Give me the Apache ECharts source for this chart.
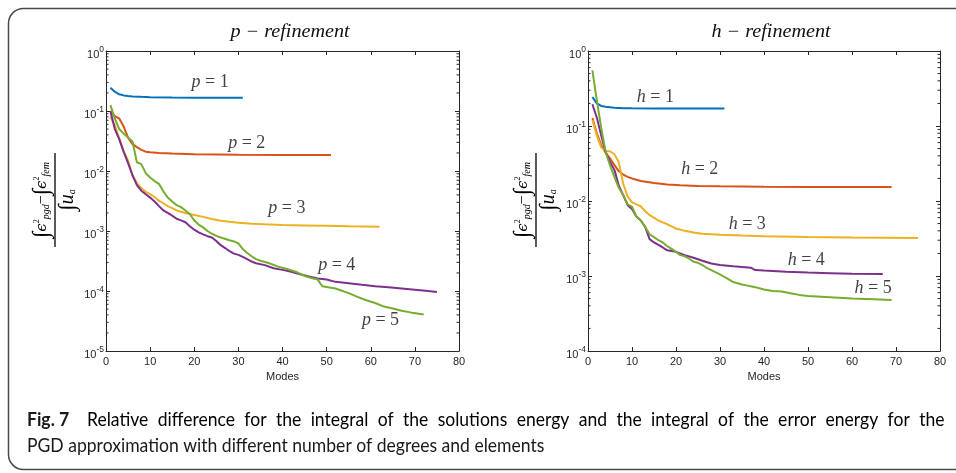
<!DOCTYPE html>
<html><head><meta charset="utf-8">
<script src="https://cdn.jsdelivr.net/npm/echarts@6/dist/echarts.min.js"></script>
<style>html,body{margin:0;padding:0;background:#fff}#c{width:956px;height:473px}</style>
</head><body><div id="c"></div>
<script>
// ---------- data ----------
const colors = ['#0072BD', '#D95319', '#EDB120', '#7E2F8E', '#77AC30'];
const labelNums = ['1', '2', '3', '4', '5'];

// p-refinement (left)
const p1 = [[1,0.245],[2,0.21],[3,0.19],[4,0.182],[5,0.178],[6,0.175],[8,0.172],[10,0.170],[15,0.168],[20,0.167],[25,0.167],[31,0.167]];
const p2 = [[1,0.1],[2,0.082],[3,0.075],[4,0.055],[5,0.036],[6,0.028],[7,0.025],[8,0.0225],[9,0.021],[10,0.0205],[12,0.020],[15,0.0195],[20,0.019],[25,0.0188],[30,0.0186],[40,0.0185],[51,0.0185]];
const p3 = [[1,0.08],[2,0.058],[3,0.035],[4,0.021],[5,0.015],[6,0.0085],[7,0.0063],[8,0.0052],[9,0.0045],[10,0.0041],[11,0.0037],[12,0.0032],[13,0.0029],[14,0.0026],[15,0.0024],[16,0.0022],[17,0.0021],[18,0.0020],[20,0.00185],[22,0.00172],[24,0.00158],[26,0.00148],[28,0.00142],[30,0.00137],[33,0.00132],[36,0.00129],[40,0.00126],[45,0.00124],[50,0.00122],[55,0.0012],[62,0.00118]];
const p4 = [[1,0.1],[2,0.05],[3,0.034],[4,0.021],[5,0.0135],[6,0.0085],[7,0.0058],[8,0.0047],[9,0.0041],[10,0.0036],[11,0.0031],[12,0.0026],[13,0.0022],[14,0.0020],[15,0.0018],[16,0.0016],[17,0.0015],[18,0.0014],[19,0.0012],[20,0.00105],[21,0.00095],[22,0.00088],[23,0.00082],[24,0.00078],[25,0.00068],[26,0.00058],[27,0.00052],[28,0.00046],[29,0.00042],[30,0.0004],[31,0.00037],[32,0.00034],[33,0.00031],[34,0.00029],[36,0.00027],[38,0.00024],[40,0.000225],[42,0.00021],[44,0.00019],[46,0.000175],[48,0.000162],[50,0.000155],[52,0.000142],[55,0.000135],[58,0.000127],[61,0.00012],[64,0.000115],[67,0.00011],[70,0.000105],[73,0.0001],[75,0.0000962]];
const p5 = [[1,0.125],[2,0.075],[3,0.05],[4,0.042],[5,0.036],[6,0.031],[7,0.014],[8,0.013],[9,0.0092],[10,0.0078],[11,0.0068],[12,0.0061],[13,0.0046],[14,0.0036],[15,0.0031],[16,0.0027],[17,0.0025],[18,0.0022],[19,0.0019],[20,0.0015],[21,0.00128],[22,0.00115],[23,0.001],[24,0.0009],[25,0.00083],[26,0.00078],[28,0.0007],[29,0.00067],[30,0.00062],[31,0.0005],[32,0.00043],[33,0.00038],[34,0.00034],[35,0.00032],[37,0.00029],[39,0.000255],[41,0.000232],[43,0.00021],[45,0.000178],[47,0.000162],[48,0.000155],[49,0.00012],[52,0.00011],[55,0.000092],[57,0.00008],[59,0.00007],[61,0.000063],[63,0.000055],[65,0.000051],[67,0.000047],[69,0.000044],[72,0.0000407]];

// h-refinement (right)
const h1 = [[1,0.244],[2,0.2],[3,0.185],[4,0.18],[6,0.175],[8,0.173],[10,0.172],[15,0.171],[20,0.171],[31,0.171]];
const h2 = [[1,0.128],[2,0.08],[3,0.056],[4,0.044],[5,0.037],[6,0.03],[7,0.025],[8,0.0225],[9,0.021],[10,0.02],[12,0.0185],[15,0.0174],[18,0.0166],[21,0.0162],[25,0.0159],[30,0.0157],[40,0.0155],[50,0.0154],[69,0.0154]];
const h3 = [[1,0.12],[2,0.075],[3,0.052],[4,0.046],[5,0.046],[6,0.042],[7,0.033],[8,0.017],[9,0.0115],[10,0.0096],[11,0.009],[12,0.0085],[13,0.0073],[14,0.0065],[15,0.006],[16,0.0055],[17,0.0052],[18,0.0049],[19,0.0046],[20,0.0043],[22,0.004],[24,0.0038],[26,0.00365],[30,0.00355],[35,0.00347],[40,0.0034],[50,0.0033],[60,0.00325],[75,0.0032]];
const h4 = [[1,0.195],[2,0.13],[3,0.075],[4,0.045],[5,0.033],[6,0.026],[7,0.016],[8,0.012],[9,0.0088],[10,0.0078],[11,0.0062],[12,0.0055],[13,0.0045],[14,0.0031],[15,0.0028],[16,0.0026],[17,0.0024],[18,0.0022],[20,0.0021],[22,0.0019],[24,0.00175],[26,0.0016],[28,0.00147],[30,0.0014],[33,0.00135],[37,0.00129],[38,0.0012],[40,0.00118],[45,0.00114],[50,0.00111],[55,0.00109],[60,0.00107],[67,0.00106]];
const h5 = [[1,0.55],[2,0.22],[3,0.095],[4,0.045],[5,0.03],[6,0.021],[7,0.015],[8,0.012],[9,0.009],[10,0.0084],[11,0.0062],[12,0.0055],[13,0.0045],[14,0.0036],[15,0.0033],[16,0.003],[17,0.0028],[18,0.0025],[19,0.0023],[20,0.0021],[21,0.0019],[22,0.00183],[23,0.0017],[24,0.00155],[25,0.0015],[26,0.0014],[27,0.00128],[28,0.0012],[30,0.00105],[31,0.00097],[32,0.0009],[33,0.00083],[35,0.00077],[36,0.00075],[38,0.00071],[40,0.00066],[42,0.00063],[44,0.00062],[46,0.00059],[48,0.00056],[50,0.00054],[55,0.00052],[60,0.0005],[65,0.00049],[69,0.00048]];

// curve annotation positions (data coordinates)
const pLabelPos = [[23.6,0.30],[31.9,0.0286],[41,0.00236],[52.3,0.000268],[62.2,0.0000325]];
const hLabelPos = [[15.3,0.239],[25.4,0.0262],[36.2,0.00484],[49.6,0.00162],[64.8,0.000679]];

const xMin = 0, xMax = 80, xStep = 10;
const leftYMin = 1e-5, rightYMin = 1e-4, yMax = 1;

const titles = ['p \u2212 refinement', 'h \u2212 refinement'];
const xName = 'Modes';
const capBold = 'Fig. 7';
const capLine1 = 'Relative difference for the integral of the solutions energy and the integral of the error energy for the';
const capLine2 = 'PGD approximation with different number of degrees and elements';

// ---------- chart ----------
const axisColor = '#262626';
const chart = echarts.init(document.getElementById('c'), null, {renderer: 'canvas'});

function xAx(grid, top) {
  return {
    type: 'value', gridIndex: grid, position: top ? 'top' : 'bottom', min: xMin, max: xMax, interval: xStep,
    axisLine: {show: true, onZero: false, lineStyle: {color: axisColor, width: 1}},
    axisTick: {show: true, inside: true, length: 4, lineStyle: {color: axisColor}},
    axisLabel: {show: !top, margin: 5, color: axisColor, fontSize: 11, fontFamily: 'Liberation Sans'},
    splitLine: {show: false},
    name: top ? '' : xName, nameLocation: 'middle', nameGap: 19,
    nameTextStyle: {color: axisColor, fontSize: 11, fontFamily: 'Liberation Sans'}
  };
}
function yAx(grid, right, min) {
  return {
    type: 'log', logBase: 10, gridIndex: grid, position: right ? 'right' : 'left', min: min, max: yMax,
    axisLine: {show: true, onZero: false, lineStyle: {color: axisColor, width: 1}},
    axisTick: {show: true, inside: true, length: 4, lineStyle: {color: axisColor}},
    axisLabel: {
      show: !right, margin: 2,
      formatter: v => '{b|10}{s|' + Math.round(Math.log10(v)) + '}',
      rich: {
        b: {fontSize: 11, fontFamily: 'Liberation Sans', color: axisColor, padding: [7, 0, 0, 0]},
        s: {fontSize: 8.5, fontFamily: 'Liberation Sans', color: axisColor, padding: [0, 0, 3, 0]}
      }
    },
    splitLine: {show: false}
  };
}
function lineS(data, i, axIdx) {
  return {type: 'line', xAxisIndex: axIdx, yAxisIndex: axIdx, data: data, showSymbol: false, symbol: 'none',
    lineStyle: {color: colors[i], width: 2}, itemStyle: {color: colors[i]}, silent: true, z: 3};
}
function minorData(minExp, maxExp) {
  const out = [];
  for (let e = minExp; e < maxExp; e++) for (let m = 2; m <= 9; m++) out.push([xMin, m * Math.pow(10, e)]);
  return out;
}
function minorS(axIdx, minExp) {
  return {type: 'custom', xAxisIndex: axIdx, yAxisIndex: axIdx, data: minorData(minExp, 0), silent: true, clip: false, z: 2,
    renderItem: (params, api) => {
      const v = api.value(1);
      const a = api.coord([xMin, v]);
      const b = api.coord([xMax, v]);
      return {type: 'group', children: [
        {type: 'line', shape: {x1: a[0], y1: a[1], x2: a[0] + 2.5, y2: a[1]}, style: {stroke: axisColor, lineWidth: 1}},
        {type: 'line', shape: {x1: b[0] - 2.5, y1: b[1], x2: b[0], y2: b[1]}, style: {stroke: axisColor, lineWidth: 1}}
      ]};
    }};
}
const labRich = {
  i: {fontFamily: 'Liberation Serif', fontStyle: 'italic', fontSize: 18, color: '#111'},
  n: {fontFamily: 'Liberation Serif', fontSize: 18, color: '#111'}
};
function labelS(pos, letter, axIdx) {
  return {type: 'scatter', xAxisIndex: axIdx, yAxisIndex: axIdx, symbolSize: 0.1, silent: true, z: 4,
    itemStyle: {color: 'transparent'},
    data: pos.map((p, i) => ({value: p, label: {formatter: '{i|' + letter + '}{n| = ' + labelNums[i] + '}'}})),
    label: {show: true, position: 'inside', rich: labRich}};
}

const series = [];
[p1, p2, p3, p4, p5].forEach((d, i) => series.push(lineS(d, i, 0)));
[h1, h2, h3, h4, h5].forEach((d, i) => series.push(lineS(d, i, 2)));
series.push(minorS(0, -5), minorS(2, -4));
series.push(labelS(pLabelPos, 'p', 0), labelS(hLabelPos, 'h', 2));

// fraction (y axis name) as rotated graphic
const fracRich = {
  int: {fontFamily: 'Liberation Serif', fontStyle: 'italic', fontSize: 23, color: '#000'},
  e: {fontFamily: 'DejaVu Serif', fontStyle: 'italic', fontSize: 15, color: '#000'},
  u: {fontFamily: 'Liberation Serif', fontStyle: 'italic', fontSize: 20, color: '#000'},
  sup: {fontFamily: 'Liberation Serif', fontSize: 8, color: '#000', padding: [0, 0, 10, 0]},
  sub: {fontFamily: 'Liberation Serif', fontStyle: 'italic', fontSize: 10, color: '#000', padding: [9, 0, 0, 0]},
  op: {fontFamily: 'Liberation Serif', fontSize: 16, color: '#000'}
};
const numer = '{int|\u222B}{e|\u03F5}{sup|2}{sub|pgd}{op|\u2212}{int|\u222B}{e|\u03F5}{sup|2}{sub|fem}';
const denom = '{int|\u222B}{u|u}{sub|a}';
function fraction(cx, cy) {
  return {type: 'group', x: cx, y: cy, rotation: Math.PI / 2, children: [
    {type: 'text', style: {x: 0, y: -13, text: numer, rich: fracRich, align: 'center', verticalAlign: 'middle'}},
    {type: 'line', shape: {x1: -47, y1: 0, x2: 47, y2: 0}, style: {stroke: '#000', lineWidth: 1.3}},
    {type: 'text', style: {x: 0, y: 13, text: denom, rich: fracRich, align: 'center', verticalAlign: 'middle'}}
  ]};
}

// caption: justified first line, natural last line (one common horizontal scale)
const mctx = document.createElement('canvas').getContext('2d');
function meas(font, t) { mctx.font = font; return mctx.measureText(t).width; }
const capSize = 19;
const capFam = 'Lato';
const capFont = capSize + 'px ' + capFam;
const s1 = (943 - 87) / meas(capFont, capLine1);
const s2 = (490 - 27) / meas(capFont, capLine2);
const capS = (s1 + s2) / 2;
const words1 = capLine1.split(' ');
const wordsW = meas(capFont, words1.join(''));
const spW = ((943 - 87) / capS - wordsW) / (words1.length - 1);
const line1Rich = words1.map(w => '{r|' + w + '}').join('{sp| }');
const capRich = {
  r: {fontFamily: capFam, fontSize: capSize, color: '#1a1a1a'},
  sp: {fontFamily: capFam, fontSize: capSize, width: spW}
};

const graphic = [
  {type: 'rect', shape: {x: 8.5, y: 8.5, width: 1000, height: 461, r: 15}, style: {fill: 'none', stroke: '#4a4a4a', lineWidth: 1.5}, silent: true},
  {type: 'text', x: 290, y: 32, scaleX: 1.12, style: {text: titles[0], font: 'italic 18px "Liberation Serif"', fill: '#111', align: 'center', verticalAlign: 'middle'}},
  {type: 'text', x: 771, y: 32, scaleX: 1.12, style: {text: titles[1], font: 'italic 18px "Liberation Serif"', fill: '#111', align: 'center', verticalAlign: 'middle'}},
  fraction(55, 200),
  fraction(536, 200),
  {type: 'text', x: 27, y: 420, scaleX: capS, style: {text: capBold, font: 'bold ' + capFont, fill: '#1a1a1a', align: 'left', verticalAlign: 'middle'}},
  {type: 'text', x: 87, y: 420, scaleX: capS, style: {text: line1Rich, rich: capRich, align: 'left', verticalAlign: 'middle'}},
  {type: 'text', x: 27, y: 446, scaleX: capS, style: {text: capLine2, font: capFont, fill: '#1a1a1a', align: 'left', verticalAlign: 'middle'}}
];

chart.setOption({
  animation: false,
  backgroundColor: '#fff',
  grid: [
    {left: 106, top: 51, right: 497, bottom: 122, outerBoundsMode: 'none', containLabel: false},
    {left: 588, top: 51, right: 16, bottom: 122, outerBoundsMode: 'none', containLabel: false}
  ],
  xAxis: [xAx(0, false), xAx(0, true), xAx(1, false), xAx(1, true)],
  yAxis: [yAx(0, false, leftYMin), yAx(0, true, leftYMin), yAx(1, false, rightYMin), yAx(1, true, rightYMin)],
  series: series,
  graphic: graphic
});
</script>
</body></html>
